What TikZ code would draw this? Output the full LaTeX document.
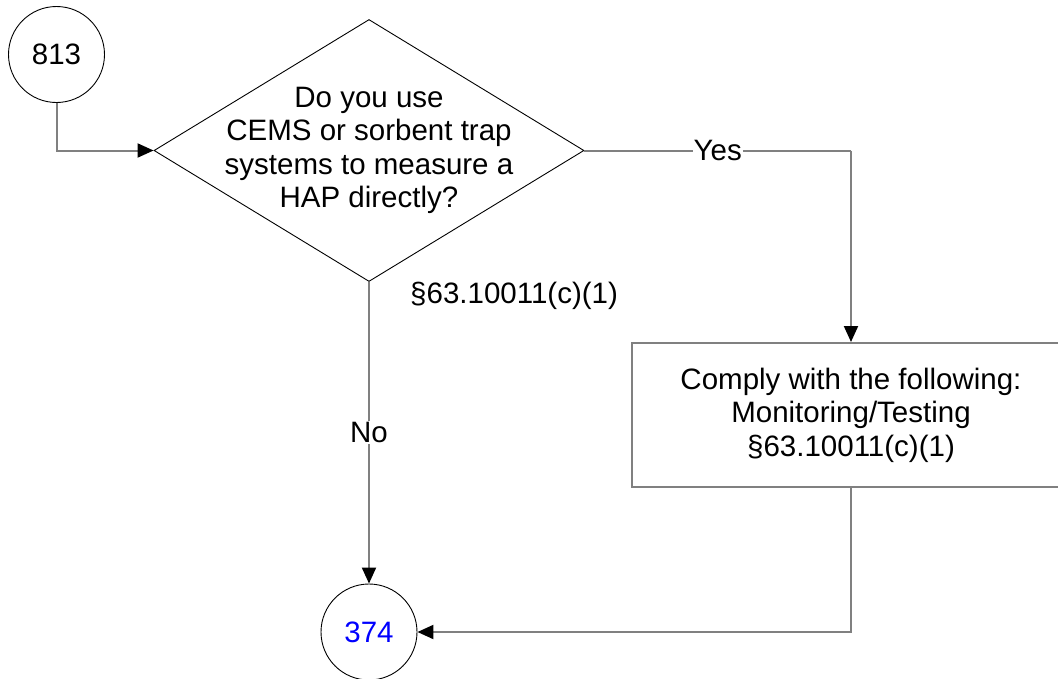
\documentclass[tikz,border=0pt]{standalone}
\usepackage{fontspec}
\setmainfont{Liberation Sans}
\usetikzlibrary{arrows.meta,shapes.geometric}
\definecolor{linegray}{HTML}{808080}
\definecolor{refblue}{HTML}{0000FF}
\tikzset{
  txt/.style={font=\fontsize{29.5}{33.5}\selectfont, text=black},
  conn/.style={draw=linegray, line width=2pt, -{Triangle[length=16pt,width=14pt,color=black]}},
  plainline/.style={draw=linegray, line width=2pt},
  circ/.style={circle, draw=black, line width=0.9pt, minimum size=96pt, inner sep=0pt, txt},
  decision/.style={diamond, draw=black, line width=0.9pt, minimum width=430pt, minimum height=262pt, inner sep=0pt},
  procbox/.style={rectangle, draw=linegray, line width=2pt, minimum width=438pt, minimum height=144pt, inner sep=0pt, align=center, txt},
  lab/.style={fill=white, inner sep=1pt, txt},
}
\begin{document}
\begin{tikzpicture}[x=1pt,y=-1pt]
\useasboundingbox (0,0) rectangle (1058,678);
\node[circ] (c813) at (56.5,54.5) {813};
\node[decision] (d) at (369,150.5) {};
\node[txt, align=center, inner sep=0pt] (dt) at (d.center) {Do you use\\CEMS or sorbent trap\\systems to measure a\\HAP directly?};
\node[procbox] (b) at (851,415) {Comply with the following:\\Monitoring/Testing\\\S63.10011(c)(1)};
\node[circ, text=refblue] (c374) at (369,632) {374};
\node[txt, anchor=west, inner sep=0pt] (ref) at (410,296) {\S63.10011(c)(1)};
\coordinate (yc) at (b.north |- d.east);
\draw[conn] (c813.south) |- (d.west);
\draw[plainline] (d.east) -- node[lab] (yes) {Yes} (yc);
\draw[conn] (yc) -- (b.north);
\draw[conn] (d.south) -- node[lab] (no) {No} (c374.north);
\draw[conn] (b.south) |- (c374.east);
\end{tikzpicture}
\end{document}
